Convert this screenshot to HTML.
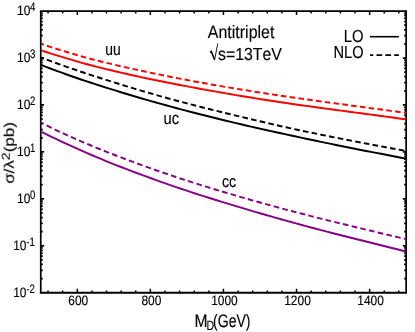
<!DOCTYPE html>
<html><head><meta charset="utf-8"><title>Antitriplet cross sections</title>
<style>html,body{margin:0;padding:0;background:#fff;}svg{display:block;} text{stroke:#000;stroke-width:0.15px;filter:url(#gs);font-kerning:none;text-rendering:geometricPrecision;}</style></head>
<body>
<svg width="415" height="332" viewBox="0 0 415 332">
<defs><filter id="gs" x="-10%" y="-50%" width="120%" height="200%" color-interpolation-filters="sRGB"><feColorMatrix type="matrix" values="1 0 0 0 0 0 1 0 0 0 0 0 1 0 0 0 0 0 1 0"/></filter></defs>
<rect width="415" height="332" fill="#fff"/>
<path d="M48.06,292.75v-2.3M48.06,11.1v2.3 M62.67,292.75v-2.3M62.67,11.1v2.3 M77.29,292.75v-3.9M77.29,11.1v3.9 M91.91,292.75v-2.3M91.91,11.1v2.3 M106.52,292.75v-2.3M106.52,11.1v2.3 M121.14,292.75v-2.3M121.14,11.1v2.3 M135.75,292.75v-2.3M135.75,11.1v2.3 M150.37,292.75v-3.9M150.37,11.1v3.9 M164.99,292.75v-2.3M164.99,11.1v2.3 M179.60,292.75v-2.3M179.60,11.1v2.3 M194.22,292.75v-2.3M194.22,11.1v2.3 M208.83,292.75v-2.3M208.83,11.1v2.3 M223.45,292.75v-3.9M223.45,11.1v3.9 M238.07,292.75v-2.3M238.07,11.1v2.3 M252.68,292.75v-2.3M252.68,11.1v2.3 M267.30,292.75v-2.3M267.30,11.1v2.3 M281.91,292.75v-2.3M281.91,11.1v2.3 M296.53,292.75v-3.9M296.53,11.1v3.9 M311.15,292.75v-2.3M311.15,11.1v2.3 M325.76,292.75v-2.3M325.76,11.1v2.3 M340.38,292.75v-2.3M340.38,11.1v2.3 M354.99,292.75v-2.3M354.99,11.1v2.3 M369.61,292.75v-3.9M369.61,11.1v3.9 M384.23,292.75v-2.3M384.23,11.1v2.3 M398.84,292.75v-2.3M398.84,11.1v2.3" stroke="#000" stroke-width="1.5" fill="none"/>
<path d="M40.75,278.62h2.0M406.15,278.62h-2.0 M40.75,270.35h2.0M406.15,270.35h-2.0 M40.75,264.49h2.0M406.15,264.49h-2.0 M40.75,259.94h2.0M406.15,259.94h-2.0 M40.75,256.22h2.0M406.15,256.22h-2.0 M40.75,253.08h2.0M406.15,253.08h-2.0 M40.75,250.36h2.0M406.15,250.36h-2.0 M40.75,247.96h2.0M406.15,247.96h-2.0 M40.75,245.81h3.3M406.15,245.81h-3.3 M40.75,231.68h2.0M406.15,231.68h-2.0 M40.75,223.41h2.0M406.15,223.41h-2.0 M40.75,217.55h2.0M406.15,217.55h-2.0 M40.75,213.00h2.0M406.15,213.00h-2.0 M40.75,209.28h2.0M406.15,209.28h-2.0 M40.75,206.14h2.0M406.15,206.14h-2.0 M40.75,203.42h2.0M406.15,203.42h-2.0 M40.75,201.01h2.0M406.15,201.01h-2.0 M40.75,198.87h3.3M406.15,198.87h-3.3 M40.75,184.74h2.0M406.15,184.74h-2.0 M40.75,176.47h2.0M406.15,176.47h-2.0 M40.75,170.60h2.0M406.15,170.60h-2.0 M40.75,166.06h2.0M406.15,166.06h-2.0 M40.75,162.34h2.0M406.15,162.34h-2.0 M40.75,159.20h2.0M406.15,159.20h-2.0 M40.75,156.47h2.0M406.15,156.47h-2.0 M40.75,154.07h2.0M406.15,154.07h-2.0 M40.75,151.92h3.3M406.15,151.92h-3.3 M40.75,137.79h2.0M406.15,137.79h-2.0 M40.75,129.53h2.0M406.15,129.53h-2.0 M40.75,123.66h2.0M406.15,123.66h-2.0 M40.75,119.11h2.0M406.15,119.11h-2.0 M40.75,115.40h2.0M406.15,115.40h-2.0 M40.75,112.25h2.0M406.15,112.25h-2.0 M40.75,109.53h2.0M406.15,109.53h-2.0 M40.75,107.13h2.0M406.15,107.13h-2.0 M40.75,104.98h3.3M406.15,104.98h-3.3 M40.75,90.85h2.0M406.15,90.85h-2.0 M40.75,82.59h2.0M406.15,82.59h-2.0 M40.75,76.72h2.0M406.15,76.72h-2.0 M40.75,72.17h2.0M406.15,72.17h-2.0 M40.75,68.46h2.0M406.15,68.46h-2.0 M40.75,65.31h2.0M406.15,65.31h-2.0 M40.75,62.59h2.0M406.15,62.59h-2.0 M40.75,60.19h2.0M406.15,60.19h-2.0 M40.75,58.04h3.3M406.15,58.04h-3.3 M40.75,43.91h2.0M406.15,43.91h-2.0 M40.75,35.64h2.0M406.15,35.64h-2.0 M40.75,29.78h2.0M406.15,29.78h-2.0 M40.75,25.23h2.0M406.15,25.23h-2.0 M40.75,21.51h2.0M406.15,21.51h-2.0 M40.75,18.37h2.0M406.15,18.37h-2.0 M40.75,15.65h2.0M406.15,15.65h-2.0 M40.75,13.25h2.0M406.15,13.25h-2.0" stroke="#000" stroke-width="1.75" fill="none"/>
<path d="M39.88,11.1H407.02M39.88,292.75H407.02" fill="none" stroke="#000" stroke-width="1.85"/>
<path d="M40.75,11.1V292.75M406.15,11.1V292.75" fill="none" stroke="#000" stroke-width="1.7"/>
<path d="M41.0,43.80 L46.0,45.47 L51.0,47.11 L56.0,48.70 L61.0,50.26 L66.0,51.79 L71.0,53.30 L76.0,54.77 L81.0,56.21 L86.0,57.60 L91.0,58.94 L96.0,60.23 L101.0,61.48 L106.0,62.71 L111.0,63.91 L116.0,65.10 L121.0,66.27 L126.0,67.42 L131.0,68.54 L136.0,69.65 L141.0,70.74 L146.0,71.81 L151.0,72.86 L156.0,73.89 L161.0,74.92 L166.0,75.92 L171.0,76.92 L176.0,77.90 L181.0,78.87 L186.0,79.83 L191.0,80.77 L196.0,81.70 L201.0,82.62 L206.0,83.52 L211.0,84.42 L216.0,85.30 L221.0,86.16 L226.0,87.02 L231.0,87.87 L236.0,88.70 L241.0,89.52 L246.0,90.33 L251.0,91.14 L256.0,91.93 L261.0,92.71 L266.0,93.48 L271.0,94.24 L276.0,95.00 L281.0,95.74 L286.0,96.48 L291.0,97.21 L296.0,97.93 L301.0,98.64 L306.0,99.34 L311.0,100.04 L316.0,100.74 L321.0,101.43 L326.0,102.11 L331.0,102.79 L336.0,103.47 L341.0,104.15 L346.0,104.82 L351.0,105.49 L356.0,106.16 L361.0,106.83 L366.0,107.50 L371.0,108.18 L376.0,108.85 L381.0,109.52 L386.0,110.20 L391.0,110.88 L396.0,111.57 L401.0,112.26 L406.0,112.95" fill="none" stroke="#ff0000" stroke-width="1.95" stroke-dasharray="5.6 3.27" stroke-dashoffset="2.67"/>
<path d="M41.0,50.40 L46.0,52.00 L51.0,53.57 L56.0,55.12 L61.0,56.65 L66.0,58.16 L71.0,59.66 L76.0,61.14 L81.0,62.58 L86.0,63.97 L91.0,65.30 L96.0,66.58 L101.0,67.85 L106.0,69.08 L111.0,70.30 L116.0,71.50 L121.0,72.67 L126.0,73.82 L131.0,74.94 L136.0,76.04 L141.0,77.12 L146.0,78.18 L151.0,79.22 L156.0,80.25 L161.0,81.26 L166.0,82.26 L171.0,83.25 L176.0,84.23 L181.0,85.20 L186.0,86.16 L191.0,87.11 L196.0,88.04 L201.0,88.96 L206.0,89.87 L211.0,90.77 L216.0,91.66 L221.0,92.54 L226.0,93.41 L231.0,94.26 L236.0,95.11 L241.0,95.94 L246.0,96.77 L251.0,97.58 L256.0,98.38 L261.0,99.18 L266.0,99.96 L271.0,100.74 L276.0,101.50 L281.0,102.25 L286.0,103.00 L291.0,103.74 L296.0,104.46 L301.0,105.18 L306.0,105.89 L311.0,106.59 L316.0,107.28 L321.0,107.97 L326.0,108.64 L331.0,109.32 L336.0,109.99 L341.0,110.65 L346.0,111.32 L351.0,111.98 L356.0,112.64 L361.0,113.30 L366.0,113.97 L371.0,114.63 L376.0,115.30 L381.0,115.97 L386.0,116.64 L391.0,117.32 L396.0,118.00 L401.0,118.69 L406.0,119.38" fill="none" stroke="#ff0000" stroke-width="1.95"/>
<path d="M41.0,57.54 L46.0,59.39 L51.0,61.22 L56.0,63.03 L61.0,64.82 L66.0,66.58 L71.0,68.32 L76.0,70.04 L81.0,71.74 L86.0,73.41 L91.0,75.06 L96.0,76.69 L101.0,78.29 L106.0,79.88 L111.0,81.45 L116.0,83.01 L121.0,84.55 L126.0,86.08 L131.0,87.59 L136.0,89.09 L141.0,90.57 L146.0,92.04 L151.0,93.49 L156.0,94.92 L161.0,96.34 L166.0,97.73 L171.0,99.11 L176.0,100.46 L181.0,101.80 L186.0,103.12 L191.0,104.42 L196.0,105.71 L201.0,106.99 L206.0,108.25 L211.0,109.50 L216.0,110.74 L221.0,111.97 L226.0,113.19 L231.0,114.40 L236.0,115.60 L241.0,116.80 L246.0,118.00 L251.0,119.19 L256.0,120.38 L261.0,121.56 L266.0,122.74 L271.0,123.90 L276.0,125.05 L281.0,126.19 L286.0,127.31 L291.0,128.41 L296.0,129.49 L301.0,130.56 L306.0,131.60 L311.0,132.64 L316.0,133.67 L321.0,134.68 L326.0,135.69 L331.0,136.68 L336.0,137.67 L341.0,138.66 L346.0,139.64 L351.0,140.61 L356.0,141.59 L361.0,142.55 L366.0,143.52 L371.0,144.47 L376.0,145.42 L381.0,146.36 L386.0,147.29 L391.0,148.22 L396.0,149.14 L401.0,150.06 L406.0,150.97" fill="none" stroke="#000" stroke-width="1.95" stroke-dasharray="5.6 3.27" stroke-dashoffset="2.67"/>
<path d="M41.0,64.92 L46.0,66.85 L51.0,68.74 L56.0,70.60 L61.0,72.44 L66.0,74.24 L71.0,76.01 L76.0,77.76 L81.0,79.47 L86.0,81.15 L91.0,82.80 L96.0,84.42 L101.0,86.02 L106.0,87.59 L111.0,89.15 L116.0,90.69 L121.0,92.22 L126.0,93.74 L131.0,95.24 L136.0,96.72 L141.0,98.19 L146.0,99.64 L151.0,101.08 L156.0,102.50 L161.0,103.90 L166.0,105.29 L171.0,106.66 L176.0,108.01 L181.0,109.34 L186.0,110.66 L191.0,111.96 L196.0,113.25 L201.0,114.53 L206.0,115.79 L211.0,117.04 L216.0,118.27 L221.0,119.49 L226.0,120.70 L231.0,121.90 L236.0,123.09 L241.0,124.27 L246.0,125.43 L251.0,126.59 L256.0,127.74 L261.0,128.87 L266.0,130.00 L271.0,131.11 L276.0,132.22 L281.0,133.32 L286.0,134.41 L291.0,135.49 L296.0,136.57 L301.0,137.64 L306.0,138.70 L311.0,139.75 L316.0,140.80 L321.0,141.85 L326.0,142.88 L331.0,143.91 L336.0,144.94 L341.0,145.95 L346.0,146.96 L351.0,147.96 L356.0,148.96 L361.0,149.94 L366.0,150.92 L371.0,151.89 L376.0,152.85 L381.0,153.81 L386.0,154.77 L391.0,155.74 L396.0,156.71 L401.0,157.68 L406.0,158.65" fill="none" stroke="#000" stroke-width="1.95"/>
<path d="M41.0,122.62 L46.0,125.12 L51.0,127.58 L56.0,130.01 L61.0,132.38 L66.0,134.70 L71.0,136.97 L76.0,139.17 L81.0,141.32 L86.0,143.43 L91.0,145.52 L96.0,147.58 L101.0,149.61 L106.0,151.61 L111.0,153.58 L116.0,155.53 L121.0,157.44 L126.0,159.34 L131.0,161.21 L136.0,163.06 L141.0,164.88 L146.0,166.68 L151.0,168.46 L156.0,170.22 L161.0,171.96 L166.0,173.67 L171.0,175.37 L176.0,177.04 L181.0,178.70 L186.0,180.33 L191.0,181.94 L196.0,183.53 L201.0,185.10 L206.0,186.66 L211.0,188.19 L216.0,189.71 L221.0,191.21 L226.0,192.70 L231.0,194.18 L236.0,195.64 L241.0,197.09 L246.0,198.53 L251.0,199.96 L256.0,201.37 L261.0,202.76 L266.0,204.15 L271.0,205.52 L276.0,206.88 L281.0,208.23 L286.0,209.57 L291.0,210.90 L296.0,212.21 L301.0,213.52 L306.0,214.81 L311.0,216.09 L316.0,217.37 L321.0,218.63 L326.0,219.88 L331.0,221.12 L336.0,222.35 L341.0,223.58 L346.0,224.80 L351.0,226.01 L356.0,227.22 L361.0,228.42 L366.0,229.62 L371.0,230.82 L376.0,232.02 L381.0,233.21 L386.0,234.40 L391.0,235.59 L396.0,236.79 L401.0,237.98 L406.0,239.17" fill="none" stroke="#870087" stroke-width="1.95" stroke-dasharray="5.64 3.30" stroke-dashoffset="2.67"/>
<path d="M41.0,131.74 L46.0,134.19 L51.0,136.61 L56.0,138.99 L61.0,141.34 L66.0,143.65 L71.0,145.93 L76.0,148.17 L81.0,150.39 L86.0,152.57 L91.0,154.73 L96.0,156.86 L101.0,158.96 L106.0,161.03 L111.0,163.06 L116.0,165.05 L121.0,167.01 L126.0,168.94 L131.0,170.85 L136.0,172.74 L141.0,174.61 L146.0,176.45 L151.0,178.27 L156.0,180.07 L161.0,181.85 L166.0,183.61 L171.0,185.35 L176.0,187.07 L181.0,188.76 L186.0,190.44 L191.0,192.09 L196.0,193.71 L201.0,195.32 L206.0,196.91 L211.0,198.48 L216.0,200.04 L221.0,201.58 L226.0,203.11 L231.0,204.64 L236.0,206.15 L241.0,207.66 L246.0,209.15 L251.0,210.63 L256.0,212.10 L261.0,213.56 L266.0,215.00 L271.0,216.43 L276.0,217.85 L281.0,219.26 L286.0,220.66 L291.0,222.04 L296.0,223.42 L301.0,224.79 L306.0,226.14 L311.0,227.48 L316.0,228.80 L321.0,230.11 L326.0,231.41 L331.0,232.70 L336.0,233.98 L341.0,235.26 L346.0,236.52 L351.0,237.78 L356.0,239.03 L361.0,240.28 L366.0,241.53 L371.0,242.78 L376.0,244.02 L381.0,245.26 L386.0,246.51 L391.0,247.76 L396.0,249.01 L401.0,250.25 L406.0,251.50" fill="none" stroke="#870087" stroke-width="1.95"/>
<text transform="translate(78.29,305.10) scale(0.88,1)" font-family="Liberation Sans, sans-serif" font-size="13.6" text-anchor="middle" fill="#000">600</text>
<text transform="translate(151.37,305.10) scale(0.88,1)" font-family="Liberation Sans, sans-serif" font-size="13.6" text-anchor="middle" fill="#000">800</text>
<text transform="translate(224.45,305.10) scale(0.88,1)" font-family="Liberation Sans, sans-serif" font-size="13.6" text-anchor="middle" fill="#000">1000</text>
<text transform="translate(297.53,305.10) scale(0.88,1)" font-family="Liberation Sans, sans-serif" font-size="13.6" text-anchor="middle" fill="#000">1200</text>
<text transform="translate(370.61,305.10) scale(0.88,1)" font-family="Liberation Sans, sans-serif" font-size="13.6" text-anchor="middle" fill="#000">1400</text>
<text transform="translate(13.2,297.19) scale(0.88,1)" font-family="Liberation Sans, sans-serif" font-size="13.6" fill="#000">10</text>
<text transform="translate(26.2,293.29) scale(0.78,1)" font-family="Liberation Sans, sans-serif" font-size="12.3" fill="#000">-2</text>
<text transform="translate(13.2,250.16) scale(0.88,1)" font-family="Liberation Sans, sans-serif" font-size="13.6" fill="#000">10</text>
<text transform="translate(26.2,246.26) scale(0.78,1)" font-family="Liberation Sans, sans-serif" font-size="12.3" fill="#000">-1</text>
<text transform="translate(17.0,203.13) scale(0.88,1)" font-family="Liberation Sans, sans-serif" font-size="13.6" fill="#000">10</text>
<text transform="translate(30.0,199.23) scale(0.78,1)" font-family="Liberation Sans, sans-serif" font-size="12.3" fill="#000">0</text>
<text transform="translate(17.0,156.09) scale(0.88,1)" font-family="Liberation Sans, sans-serif" font-size="13.6" fill="#000">10</text>
<text transform="translate(30.0,152.19) scale(0.78,1)" font-family="Liberation Sans, sans-serif" font-size="12.3" fill="#000">1</text>
<text transform="translate(17.0,109.06) scale(0.88,1)" font-family="Liberation Sans, sans-serif" font-size="13.6" fill="#000">10</text>
<text transform="translate(30.0,105.16) scale(0.78,1)" font-family="Liberation Sans, sans-serif" font-size="12.3" fill="#000">2</text>
<text transform="translate(17.0,62.03) scale(0.88,1)" font-family="Liberation Sans, sans-serif" font-size="13.6" fill="#000">10</text>
<text transform="translate(30.0,58.13) scale(0.78,1)" font-family="Liberation Sans, sans-serif" font-size="12.3" fill="#000">3</text>
<text transform="translate(17.0,15.00) scale(0.88,1)" font-family="Liberation Sans, sans-serif" font-size="13.6" fill="#000">10</text>
<text transform="translate(30.0,11.10) scale(0.78,1)" font-family="Liberation Sans, sans-serif" font-size="12.3" fill="#000">4</text>
<text transform="translate(207.80,38.40) scale(0.893,1)" font-family="Liberation Sans, sans-serif" font-size="17.9" text-anchor="start" fill="#000">Antitriplet</text>
<path d="M210.0,52.3L211.3,51.4L214.4,59.6" fill="none" stroke="#000" stroke-width="1.5" stroke-linejoin="miter"/><path d="M214.5,60.3L217.8,43.4" fill="none" stroke="#000" stroke-width="0.9"/>
<text transform="translate(218.00,60.30) scale(0.905,1)" font-family="Liberation Sans, sans-serif" font-size="17.5" text-anchor="start" fill="#000">s=13TeV</text>
<text transform="translate(363.50,41.50) scale(0.86,1)" font-family="Liberation Sans, sans-serif" font-size="17.3" text-anchor="end" fill="#000">LO</text>
<text transform="translate(363.50,58.25) scale(0.845,1)" font-family="Liberation Sans, sans-serif" font-size="17.3" text-anchor="end" fill="#000">NLO</text>
<path d="M370,36.7H398.9" stroke="#000" stroke-width="1.6"/>
<path d="M370,55.1H398.9" stroke="#000" stroke-width="1.6" stroke-dasharray="5.7 3.17" stroke-dashoffset="2.4"/>
<text transform="translate(113.00,55.30) scale(0.815,1)" font-family="Liberation Sans, sans-serif" font-size="17" text-anchor="middle" fill="#000">uu</text>
<text transform="translate(171.30,124.00) scale(0.865,1)" font-family="Liberation Sans, sans-serif" font-size="17" text-anchor="middle" fill="#000">uc</text>
<text transform="translate(229.00,187.00) scale(0.85,1)" font-family="Liberation Sans, sans-serif" font-size="16.7" text-anchor="middle" fill="#000">cc</text>
<text transform="translate(194.40,327.00) scale(0.87,1)" font-family="Liberation Sans, sans-serif" font-size="18" text-anchor="start" fill="#000">M</text>
<text transform="translate(206.40,330.30) scale(0.78,1)" font-family="Liberation Sans, sans-serif" font-size="13.5" text-anchor="start" fill="#000">D</text>
<text transform="translate(213.10,327.00) scale(0.78,1)" font-family="Liberation Sans, sans-serif" font-size="18" text-anchor="start" fill="#000">(GeV)</text>
<text transform="translate(13.8,152.9) rotate(-90) scale(1,0.83)" font-family="Liberation Sans, sans-serif" font-size="17" text-anchor="middle" fill="#000">&#963;/&#955;<tspan font-size="14" dy="-4.9">2</tspan><tspan dy="4.9">(pb)</tspan></text>
</svg>
</body></html>
